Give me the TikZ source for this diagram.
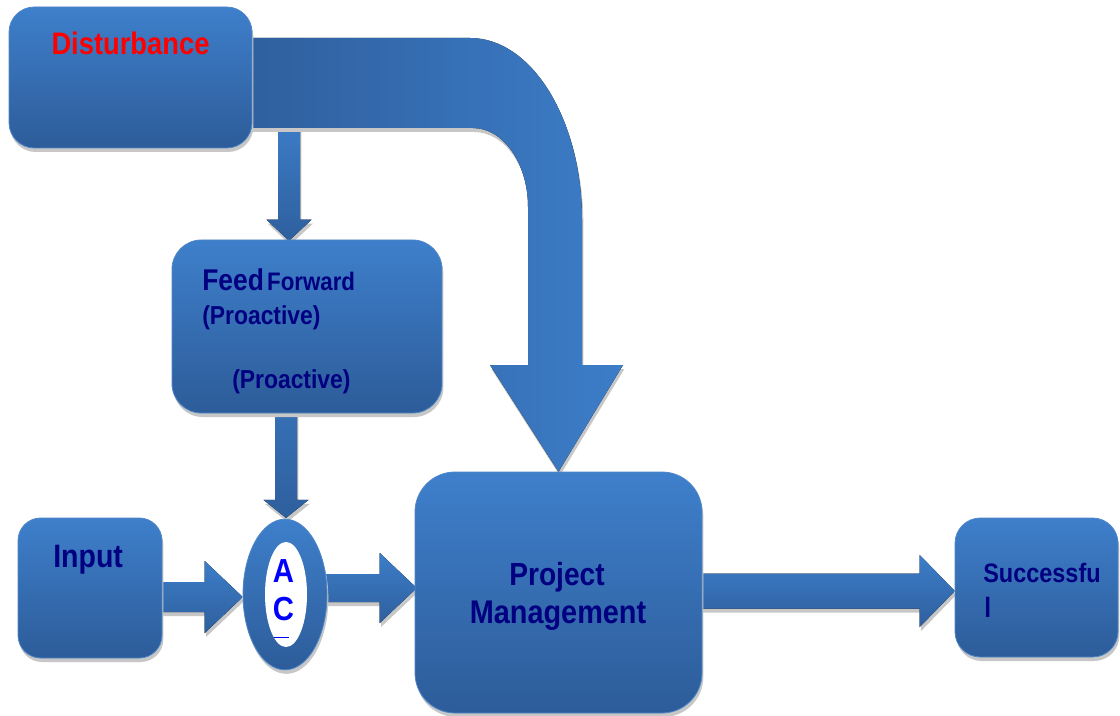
\documentclass[tikz,border=0pt]{standalone}
\usepackage{fontspec}
\usetikzlibrary{calc,shapes.geometric,shadows}
\newfontfamily\labf[FakeStretch=0.88]{Liberation Sans}
\newcommand\fsz[1]{\fontsize{#1}{#1}\selectfont}
\definecolor{ctop}{RGB}{62,127,203}
\definecolor{cbot}{RGB}{45,92,153}
\definecolor{cdark}{RGB}{46,93,155}
\definecolor{clight}{RGB}{60,125,200}
\definecolor{cedge}{RGB}{80,135,200}
\definecolor{navy}{RGB}{0,0,128}
\tikzset{
  shad/.style={drop shadow={shadow xshift=1pt,shadow yshift=-3pt,fill=black!22,opacity=1}},
  box/.style={rectangle, rounded corners=#1, top color=ctop, bottom color=cbot,
    draw=cedge, line width=0.6pt, inner sep=0pt, shad},
  box/.default=20pt,
  arrowshade/.style={top color=clight, bottom color=cbot!90!clight, shad},
  lab/.style={font=\labf\bfseries, text=navy, inner sep=0pt},
}
\newcommand\rblk[5]{%
  \fill[arrowshade] ($(#1|-#2)+(0,-#3)$) -- ($(#2)+(-#5,-#3)$) -- ($(#2)+(-#5,-#4)$) -- (#2)
    -- ($(#2)+(-#5,#4)$) -- ($(#2)+(-#5,#3)$) -- ($(#1|-#2)+(0,#3)$) -- cycle;}
\newcommand\dblk[5]{%
  \fill[arrowshade] ($(#2|-#1)+(-#3,0)$) -- ($(#2)+(-#3,-#5)$) -- ($(#2)+(-#4,-#5)$) -- (#2)
    -- ($(#2)+(#4,-#5)$) -- ($(#2)+(#3,-#5)$) -- ($(#2|-#1)+(#3,0)$) -- cycle;}
\begin{document}
\begin{tikzpicture}[x=0.75pt,y=-0.75pt]
\useasboundingbox (0,0) rectangle (1120,716);
\fill[white] (0,0) rectangle (1120,716);

% node geometry (drawn later, coordinates reserved first)
\path (130.5,77.5) node[minimum width=182.25pt, minimum height=105.75pt, inner sep=0pt] (dist) {};
\path (307,326.5) node[minimum width=202.5pt, minimum height=129.75pt, inner sep=0pt] (ff) {};
\path (90,588) node[minimum width=108pt, minimum height=105pt, inner sep=0pt] (inp) {};
\path (285,594.5) node[ellipse, minimum width=63pt, minimum height=113pt, inner sep=0pt] (ac) {};
\path (558.5,592.5) node[minimum width=215.25pt, minimum height=180.75pt, inner sep=0pt] (pm) {};
\path (1036.5,587.5) node[minimum width=122.25pt, minimum height=104.25pt, inner sep=0pt] (succ) {};

\coordinate (t1) at ($(ac.west)+(0,2.5)$);
\coordinate (t2) at ($(pm.west)+(2,-4.5)$);
\coordinate (t3) at ($(succ.west)+(0,3.5)$);
\coordinate (t4) at ($(ff.north)+(-18,1)$);
\coordinate (t5) at ($(ac.north)+(1,-1)$);
\coordinate (s4) at ($(dist.south)+(0,-30)$);
\coordinate (bandstart) at ($(dist.north east)+(-30,31)$);

% disturbance -> feed forward
\dblk{s4}{t4}{11}{22.5}{21}

% big bent arrow disturbance -> project management
\fill[left color=cdark, right color=clight, shad]
  (bandstart) -- (470,38) .. controls (532,38) and (582,120) .. (582,220)
  -- (582,365) -- (623,365) -- (pm.north) -- (490,365) -- (528,365) -- (528,207)
  .. controls (528,163) and (503,128) .. (473,128) -- ($(bandstart)+(0,90)$) -- cycle;

% other arrows
\dblk{ff.center}{t5}{11}{22.5}{18}
\rblk{inp.center}{t1}{15}{36}{38}
\rblk{ac.center}{t2}{14}{35}{37}
\rblk{pm.center}{t3}{17.5}{36}{35}

% boxes
\node[box=19pt, minimum width=182.25pt, minimum height=105.75pt] (distbox) at (dist) {};
\node[box=22pt, minimum width=202.5pt, minimum height=129.75pt] (ffbox) at (ff) {};
\node[box=17pt, minimum width=108pt, minimum height=105pt] (inpbox) at (inp) {};
\node[box=30pt, minimum width=215.25pt, minimum height=180.75pt] (pmbox) at (pm) {};
\node[box=19pt, minimum width=122.25pt, minimum height=104.25pt] (succbox) at (succ) {};
\node[ellipse, minimum width=63pt, minimum height=113pt, inner sep=0pt, top color=ctop, bottom color=cbot, draw=cedge, line width=0.6pt, shad] (acbox) at (ac) {};
\fill[white] ($(ac.center)+(1,0)$) ellipse (15.75pt and 39.4pt);

% texts
\node[lab, text=red, font=\labf\bfseries\fsz{23.3pt}, anchor=base] (tdist) at (130.5,54.5) {Disturbance};
\node[lab, font=\labf\bfseries\fsz{24.3pt}, anchor=base west] (tinp) at (53,567) {Input};
\node[lab, anchor=base west] (tff1) at (202,291) {{\fsz{22.5pt}Feed} {\fsz{19pt}Forward}};
\node[lab, font=\labf\bfseries\fsz{19.5pt}, anchor=base west] (tff2) at (202,325) {(Proactive)};
\node[lab, font=\labf\bfseries\fsz{19.5pt}, anchor=base west] (tff3) at (232,388) {(Proactive)};
\node[lab, font=\labf\bfseries\fsz{24pt}, anchor=base] (tpm1) at (557,585) {Project};
\node[lab, font=\labf\bfseries\fsz{24.6pt}, anchor=base] (tpm2) at (558,623.5) {Management};
\node[lab, font=\labf\bfseries\fsz{20pt}, anchor=base west] (ts1) at (983,582) {Successfu};
\node[lab, font=\labf\bfseries\fsz{21pt}, anchor=base west] (ts2) at (984,617) {l};
\node[lab, text=blue, font=\labf\bfseries\fsz{25pt}, anchor=base] (ta) at (283.5,582) {A};
\node[lab, text=blue, font=\labf\bfseries\fsz{25pt}, anchor=base] (tc) at (283.5,620) {C};
\draw[blue, line width=0.7pt] ($(ac.center)+(-11,42.5)$) -- ($(ac.center)+(4,42.5)$);
\end{tikzpicture}
\end{document}
